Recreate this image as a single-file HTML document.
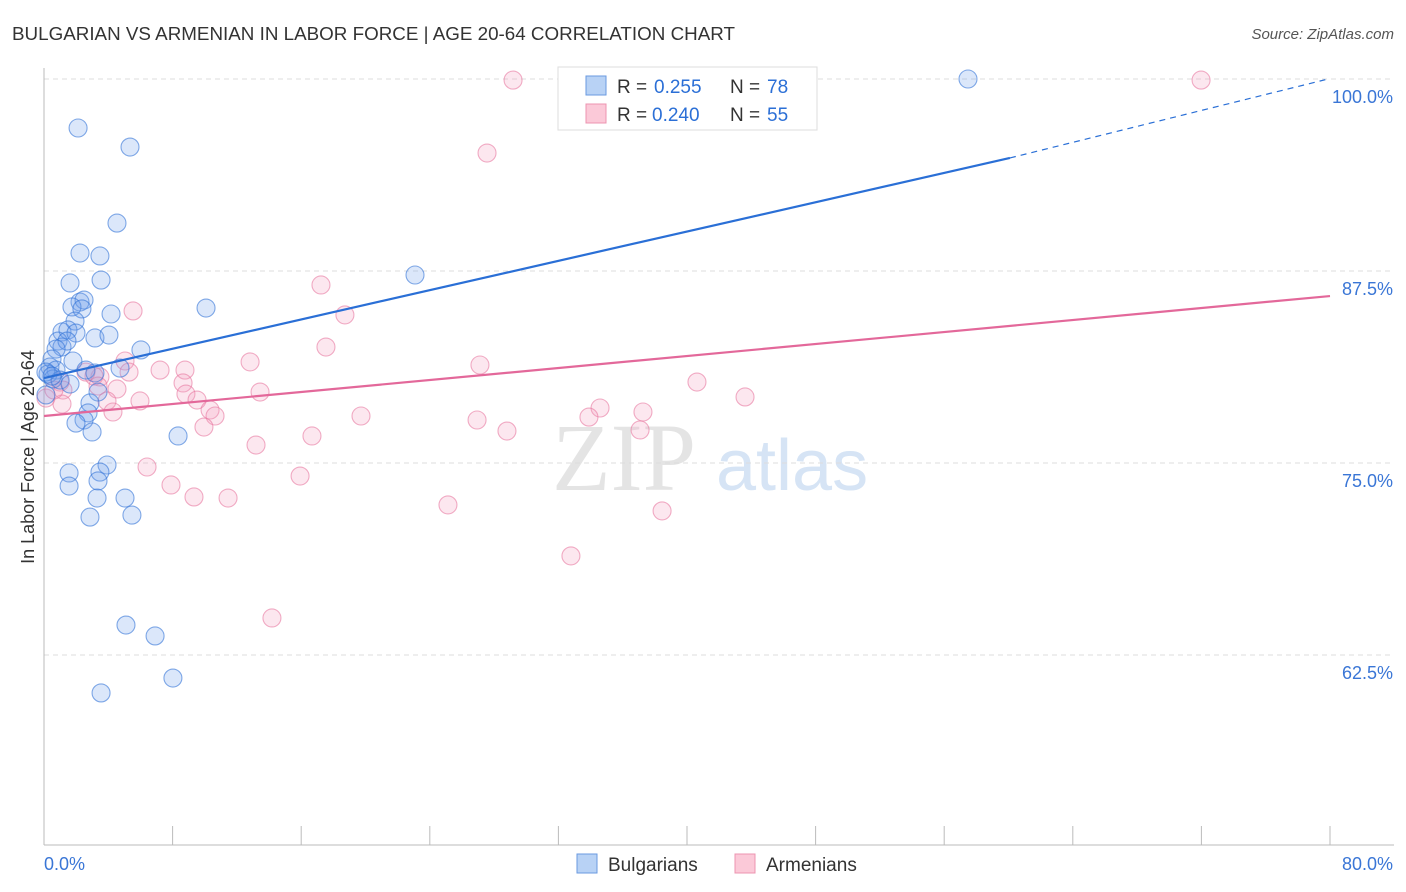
<!DOCTYPE html>
<html><head><meta charset="utf-8"><style>
body{margin:0;background:#fff;font-family:"Liberation Sans",sans-serif}
svg{display:block}
</style></head><body>
<svg id="chart" width="1406" height="892">
<text x="12" y="40" font-size="18" fill="#333" textLength="723" lengthAdjust="spacingAndGlyphs">BULGARIAN VS ARMENIAN IN LABOR FORCE | AGE 20-64 CORRELATION CHART</text>
<text x="1394" y="39" font-size="15" fill="#555" font-style="italic" text-anchor="end">Source: ZipAtlas.com</text>
<g><text x="552" y="490" font-size="96" fill="#e4e4e4" font-family="Liberation Serif">ZIP</text><text x="716" y="490" font-size="72" fill="#d6e4f5">atlas</text></g>
<g id="grid"></g>
<g id="axes"></g>
<g id="marks"></g>
<text transform="translate(34,457) rotate(-90)" font-size="18" fill="#333" text-anchor="middle">In Labor Force | Age 20-64</text>
<g>
<rect x="558" y="67" width="259" height="63" fill="#fff" stroke="#ddd"/>
<rect x="586" y="76" width="20" height="19" fill="#b8d2f5" stroke="#6a9ae0"/>
<rect x="586" y="104" width="20" height="19" fill="#fbc9d8" stroke="#ec94b0"/>
<text x="617" y="93" font-size="19" fill="#333">R =</text><text x="654" y="93" font-size="19" fill="#2b6fd6">0.255</text>
<text x="730" y="93" font-size="19" fill="#333">N =</text><text x="767" y="93" font-size="19" fill="#2b6fd6">78</text>
<text x="617" y="121" font-size="19" fill="#333">R =</text><text x="652" y="121" font-size="19" fill="#2b6fd6">0.240</text>
<text x="730" y="121" font-size="19" fill="#333">N =</text><text x="767" y="121" font-size="19" fill="#2b6fd6">55</text>
</g>
<g>
<rect x="577" y="854" width="20" height="19" fill="#b8d2f5" stroke="#6a9ae0"/>
<text x="608" y="871" font-size="19" fill="#333">Bulgarians</text>
<rect x="735" y="854" width="20" height="19" fill="#fbc9d8" stroke="#ec94b0"/>
<text x="766" y="871" font-size="19" fill="#333">Armenians</text>
</g>
</svg>
<script>
const xTicks=[0,8,16,24,32,40,48,56,64,72,80];
const yGrid=[100,87.5,75,62.5];
const yTickLabels=["100.0%","87.5%","75.0%","62.5%"];
const xLabels=["0.0%","80.0%"];
const bulgX=[2.12,5.35,4.54,2.24,3.48,1.62,3.55,2.24,2.49,1.74,2.36,4.17,10.08,23.08,57.48,1.12,1.93,1.49,1.99,0.87,1.12,1.43,0.75,3.17,4.04,6.03,1.80,0.50,0.37,0.75,0.25,2.61,3.17,4.73,0.56,1.00,1.62,3.36,2.86,2.74,2.49,1.99,2.99,8.34,3.92,3.48,1.56,1.56,3.36,3.30,5.04,2.86,5.47,5.10,6.91,8.02,3.55,0.12,0.12,0.50];
const bulgY=[96.81,95.57,90.62,88.67,88.48,86.72,86.91,85.48,85.61,85.16,85.03,84.70,85.09,87.24,100.0,83.53,84.24,83.66,83.46,82.94,82.55,82.94,82.42,83.14,83.33,82.36,81.64,81.77,81.25,81.05,80.79,81.05,80.86,81.18,80.47,80.40,80.14,79.62,78.91,78.26,77.80,77.60,77.02,76.76,74.87,74.41,74.35,73.50,73.83,72.72,72.72,71.48,71.61,64.45,63.74,61.00,60.03,80.92,79.43,80.66];
const armX=[29.18,71.98,27.56,17.23,5.54,18.72,17.54,27.12,12.82,5.04,7.22,5.29,8.77,3.48,3.11,2.61,1.00,1.18,4.54,8.65,13.44,8.83,9.52,3.36,5.97,3.92,4.29,10.33,10.64,1.12,19.72,26.94,28.80,34.59,33.90,37.26,37.08,40.62,43.61,9.95,13.19,16.67,6.41,7.90,9.33,11.45,15.93,25.13,38.45,32.78,14.18,0.12,0.62];
const armY=[99.93,99.93,95.18,86.59,84.90,84.64,82.55,81.38,81.58,81.64,81.05,80.92,81.05,80.60,80.66,80.92,80.27,79.75,79.82,80.21,79.62,79.49,79.10,80.01,79.04,79.04,78.32,78.45,78.06,78.84,78.06,77.80,77.08,78.58,77.99,78.32,77.15,80.27,79.30,77.34,76.17,76.76,74.74,73.57,72.79,72.72,74.15,72.27,71.88,68.95,64.91,79.23,79.75];
const bulgTrend=[80.53,94.86,100.03];
const bulgTrendX=[0,60.09,80];
const armTrend=[78.06,85.87];
const armTrendX=[0,80];

const NS="http://www.w3.org/2000/svg";
const sx=v=>44+v*1286/80;
const sy=v=>79+(100-v)*192/12.5;
function mk(tag,attrs,parent){const e=document.createElementNS(NS,tag);for(const k in attrs)e.setAttribute(k,attrs[k]);parent.appendChild(e);return e;}
const grid=document.getElementById('grid'),axes=document.getElementById('axes'),marks=document.getElementById('marks');
yGrid.forEach((v,i)=>{
 const l=mk('line',{x1:44,x2:1394,y1:sy(v),y2:sy(v),stroke:'#ddd','stroke-dasharray':'5,4'},grid);
 
 
 const t=mk('text',{x:1393,y:sy(v)+24,'font-size':18,fill:'#3a76d6','text-anchor':'end'},axes);
 t.textContent=yTickLabels[i];
 
 
});
mk('line',{x1:44,x2:44,y1:68,y2:845,stroke:'#bbb'},axes);
mk('line',{x1:44,x2:1394,y1:845,y2:845,stroke:'#bbb'},axes);
xTicks.forEach(v=>{
 const l=mk('line',{x1:sx(v),x2:sx(v),y1:826,y2:845,stroke:'#bbb'},axes);
 
 
});
const xl0=mk('text',{x:44,y:870,'font-size':18,fill:'#3a76d6'},axes);xl0.textContent=xLabels[0];


const xl1=mk('text',{x:1393,y:870,'font-size':18,fill:'#3a76d6','text-anchor':'end'},axes);xl1.textContent=xLabels[1];



function dots(X,Y,fill,stroke,name){X.forEach((x,i)=>{
 const c=mk('circle',{cx:sx(x),cy:sy(Y[i]),r:9,fill:fill,stroke:stroke,'stroke-width':1.1},marks);
 
 
});}
dots(armX,armY,'rgba(244,160,190,0.25)','rgba(232,120,160,0.6)','armenian-point');
dots(bulgX,bulgY,'rgba(110,160,235,0.25)','rgba(50,115,215,0.6)','bulgarian-point');

const b1=mk('line',{x1:sx(bulgTrendX[0]),y1:sy(bulgTrend[0]),x2:sx(bulgTrendX[1]),y2:sy(bulgTrend[1]),stroke:'#2a6fd6','stroke-width':2.2},marks);


const b2=mk('line',{x1:sx(bulgTrendX[1]),y1:sy(bulgTrend[1]),x2:sx(bulgTrendX[2]),y2:sy(bulgTrend[2]),stroke:'#2a6fd6','stroke-width':1.2,'stroke-dasharray':'6,5'},marks);


const a1=mk('line',{x1:sx(armTrendX[0]),y1:sy(armTrend[0]),x2:sx(armTrendX[1]),y2:sy(armTrend[1]),stroke:'#e3689a','stroke-width':2.2},marks);


</script>
</body></html>
